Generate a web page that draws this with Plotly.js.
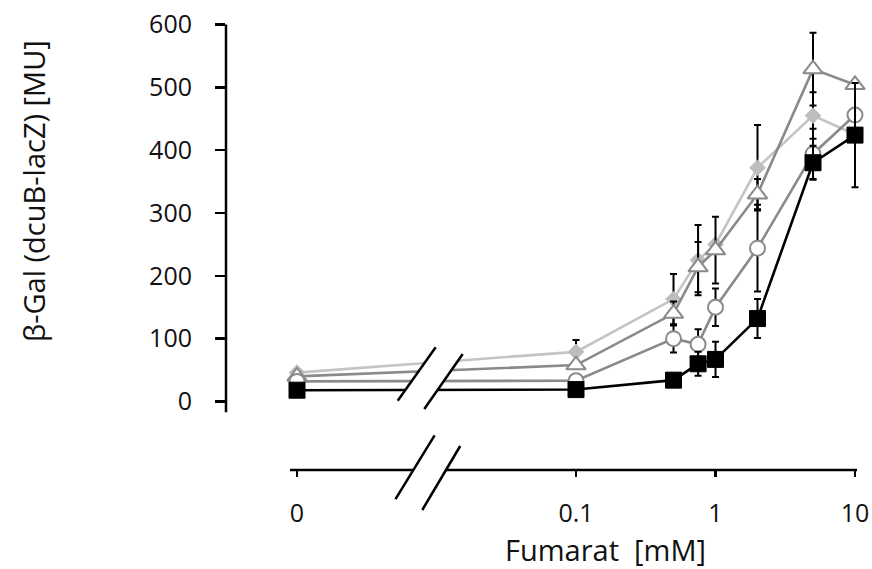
<!DOCTYPE html>
<html>
<head>
<meta charset="utf-8">
<script src="https://cdn.plot.ly/plotly-3.0.1.min.js"></script>
<style>
  html, body { margin: 0; padding: 0; background: #ffffff; }
  #chart { width: 872px; height: 569px; }
</style>
</head>
<body>
<div id="chart"></div>
<script>
// Fumarate concentrations (mM); 0 is placed left of the axis break
const fumarate = [0, 0.1, 0.5, 0.75, 1, 2, 5, 10];
const ZERO_STANDIN = 0.001;   // log position used for the 0 mM point

// beta-galactosidase activity (MU) for the four strains
const seriesDiamond  = [46, 79, 163, 225, 250, 372, 455, 425];
const seriesTriangle = [40, 58, 140, 214, 241, 330, 529, 504];
const seriesCircle   = [32, 33, 100, 91, 150, 244, 394, 456];
const seriesSquare   = [18, 19, 34, 60, 67, 132, 380, 424];

// standard deviations
const errDiamond  = [5, 19, 40, 56, 0, 68, 37, 0];
const errTriangle = [3, 5, 19, 40, 53, 24, 58, 0];
const errCircle   = [3, 3, 22, 24, 30, 69, 40, 0];
const errSquare   = [0, 0, 0, 19, 28, 31, 27, 83];

const xTickVals = [0, 0.1, 1, 10];
const xTickText = ['0', '0.1', '1', '10'];
const yTickVals = [0, 100, 200, 300, 400, 500, 600];

const xPlot = fumarate.map(v => v === 0 ? ZERO_STANDIN : v);
const FONT = 'Open Sans, Noto Sans, Arial, sans-serif';
const TEXT = '#111111';

function errBar(arr) {
  return { type: 'data', array: arr, visible: true, color: '#000000', thickness: 2, width: 3.5 };
}

function trace(y, err, lineColor, marker) {
  return {
    x: xPlot, y: y, type: 'scatter', mode: 'lines+markers',
    line: { color: lineColor, width: 2.6 },
    marker: marker,
    error_y: errBar(err),
    cliponaxis: false,
    showlegend: false,
    hoverinfo: 'x+y'
  };
}

const data = [
  trace(seriesDiamond, errDiamond, '#c4c4c4',
        { symbol: 'diamond', size: 12, color: '#bdbdbd', line: { color: '#bdbdbd', width: 1 } }),
  trace(seriesTriangle, errTriangle, '#8a8a8a',
        { symbol: 'triangle-up', size: 17, color: '#ffffff', line: { color: '#8a8a8a', width: 2 } }),
  trace(seriesCircle, errCircle, '#8a8a8a',
        { symbol: 'circle', size: 15, color: '#ffffff', line: { color: '#8a8a8a', width: 2 } }),
  trace(seriesSquare, errSquare, '#000000',
        { symbol: 'square', size: 16, color: '#000000', line: { color: '#000000', width: 1 } })
];

// plot area geometry (pixels) used to place the hand-drawn axis parts
const W = 872, H = 569;
const M = { l: 226, r: 12, t: 24, b: 99 };
const PW = W - M.l - M.r, PH = H - M.t - M.b;
const px = xp => (xp - M.l) / PW;
const py = yp => (H - M.b - yp) / PH;

function seg(x0, y0, x1, y1, w) {
  return { type: 'line', xref: 'paper', yref: 'paper', layer: 'above',
           x0: px(x0), y0: py(y0), x1: px(x1), y1: py(y1),
           line: { color: '#000000', width: w } };
}
function band(pts) {
  const d = pts.map((p, i) => (i ? 'L' : 'M') + px(p[0]) + ',' + py(p[1])).join(' ') + ' Z';
  return { type: 'path', xref: 'paper', yref: 'paper', layer: 'above', path: d,
           fillcolor: '#ffffff', line: { width: 0 } };
}

const shapes = [
  // y axis line
  { type: 'line', xref: 'paper', yref: 'y', layer: 'above', x0: 0, x1: 0, y0: -17, y1: 600,
    line: { color: '#000000', width: 2.5 } },
  // detached x axis line
  seg(290, H - M.b, 857, H - M.b, 2.5),
  // break in the data lines
  band([[435.7, 347.3], [397.7, 400.7], [424.3, 409], [462.7, 354]]),
  seg(397.7, 400.7, 435.7, 347.3, 2.5),
  seg(424.3, 409, 462.7, 354, 2.5),
  // break on the x axis
  band([[434.6, 435.3], [395.5, 499.2], [422.3, 510], [460.2, 446]]),
  seg(395.5, 499.2, 434.6, 435.3, 2.5),
  seg(422.3, 510, 460.2, 446, 2.5)
];

const layout = {
  width: W, height: H,
  margin: M,
  paper_bgcolor: '#ffffff', plot_bgcolor: '#ffffff',
  font: { family: FONT, color: TEXT, size: 25 },
  xaxis: {
    type: 'log',
    range: [-3.509, 1.0358],
    tickvals: xTickVals.map(v => v === 0 ? ZERO_STANDIN : v),
    ticktext: xTickText,
    ticks: 'outside', ticklen: 6, tickwidth: 2.5, tickcolor: '#000000',
    ticklabelstandoff: 15,
    tickfont: { family: FONT, size: 25, color: TEXT },
    showline: false, showgrid: false, zeroline: false
  },
  yaxis: {
    range: [-109, 600.8],
    tickvals: yTickVals,
    ticks: 'outside', ticklen: 10, tickwidth: 2.5, tickcolor: '#000000',
    ticklabelstandoff: 18,
    tickfont: { family: FONT, size: 25, color: TEXT },
    showline: false, showgrid: false, zeroline: false
  },
  shapes: shapes,
  annotations: [
    { text: 'β-Gal (dcuB-lacZ) [MU]', xref: 'paper', yref: 'paper',
      x: px(33), y: py(191), textangle: -90, showarrow: false,
      xanchor: 'center', yanchor: 'middle',
      font: { family: FONT, size: 29, color: TEXT } },
    { text: 'Fumarat  [mM]', xref: 'paper', yref: 'paper',
      x: px(605), y: py(549), showarrow: false,
      xanchor: 'center', yanchor: 'middle',
      font: { family: FONT, size: 29, color: TEXT } }
  ],
  showlegend: false
};

Plotly.newPlot('chart', data, layout, { displayModeBar: false, staticPlot: true });
</script>
</body>
</html>
